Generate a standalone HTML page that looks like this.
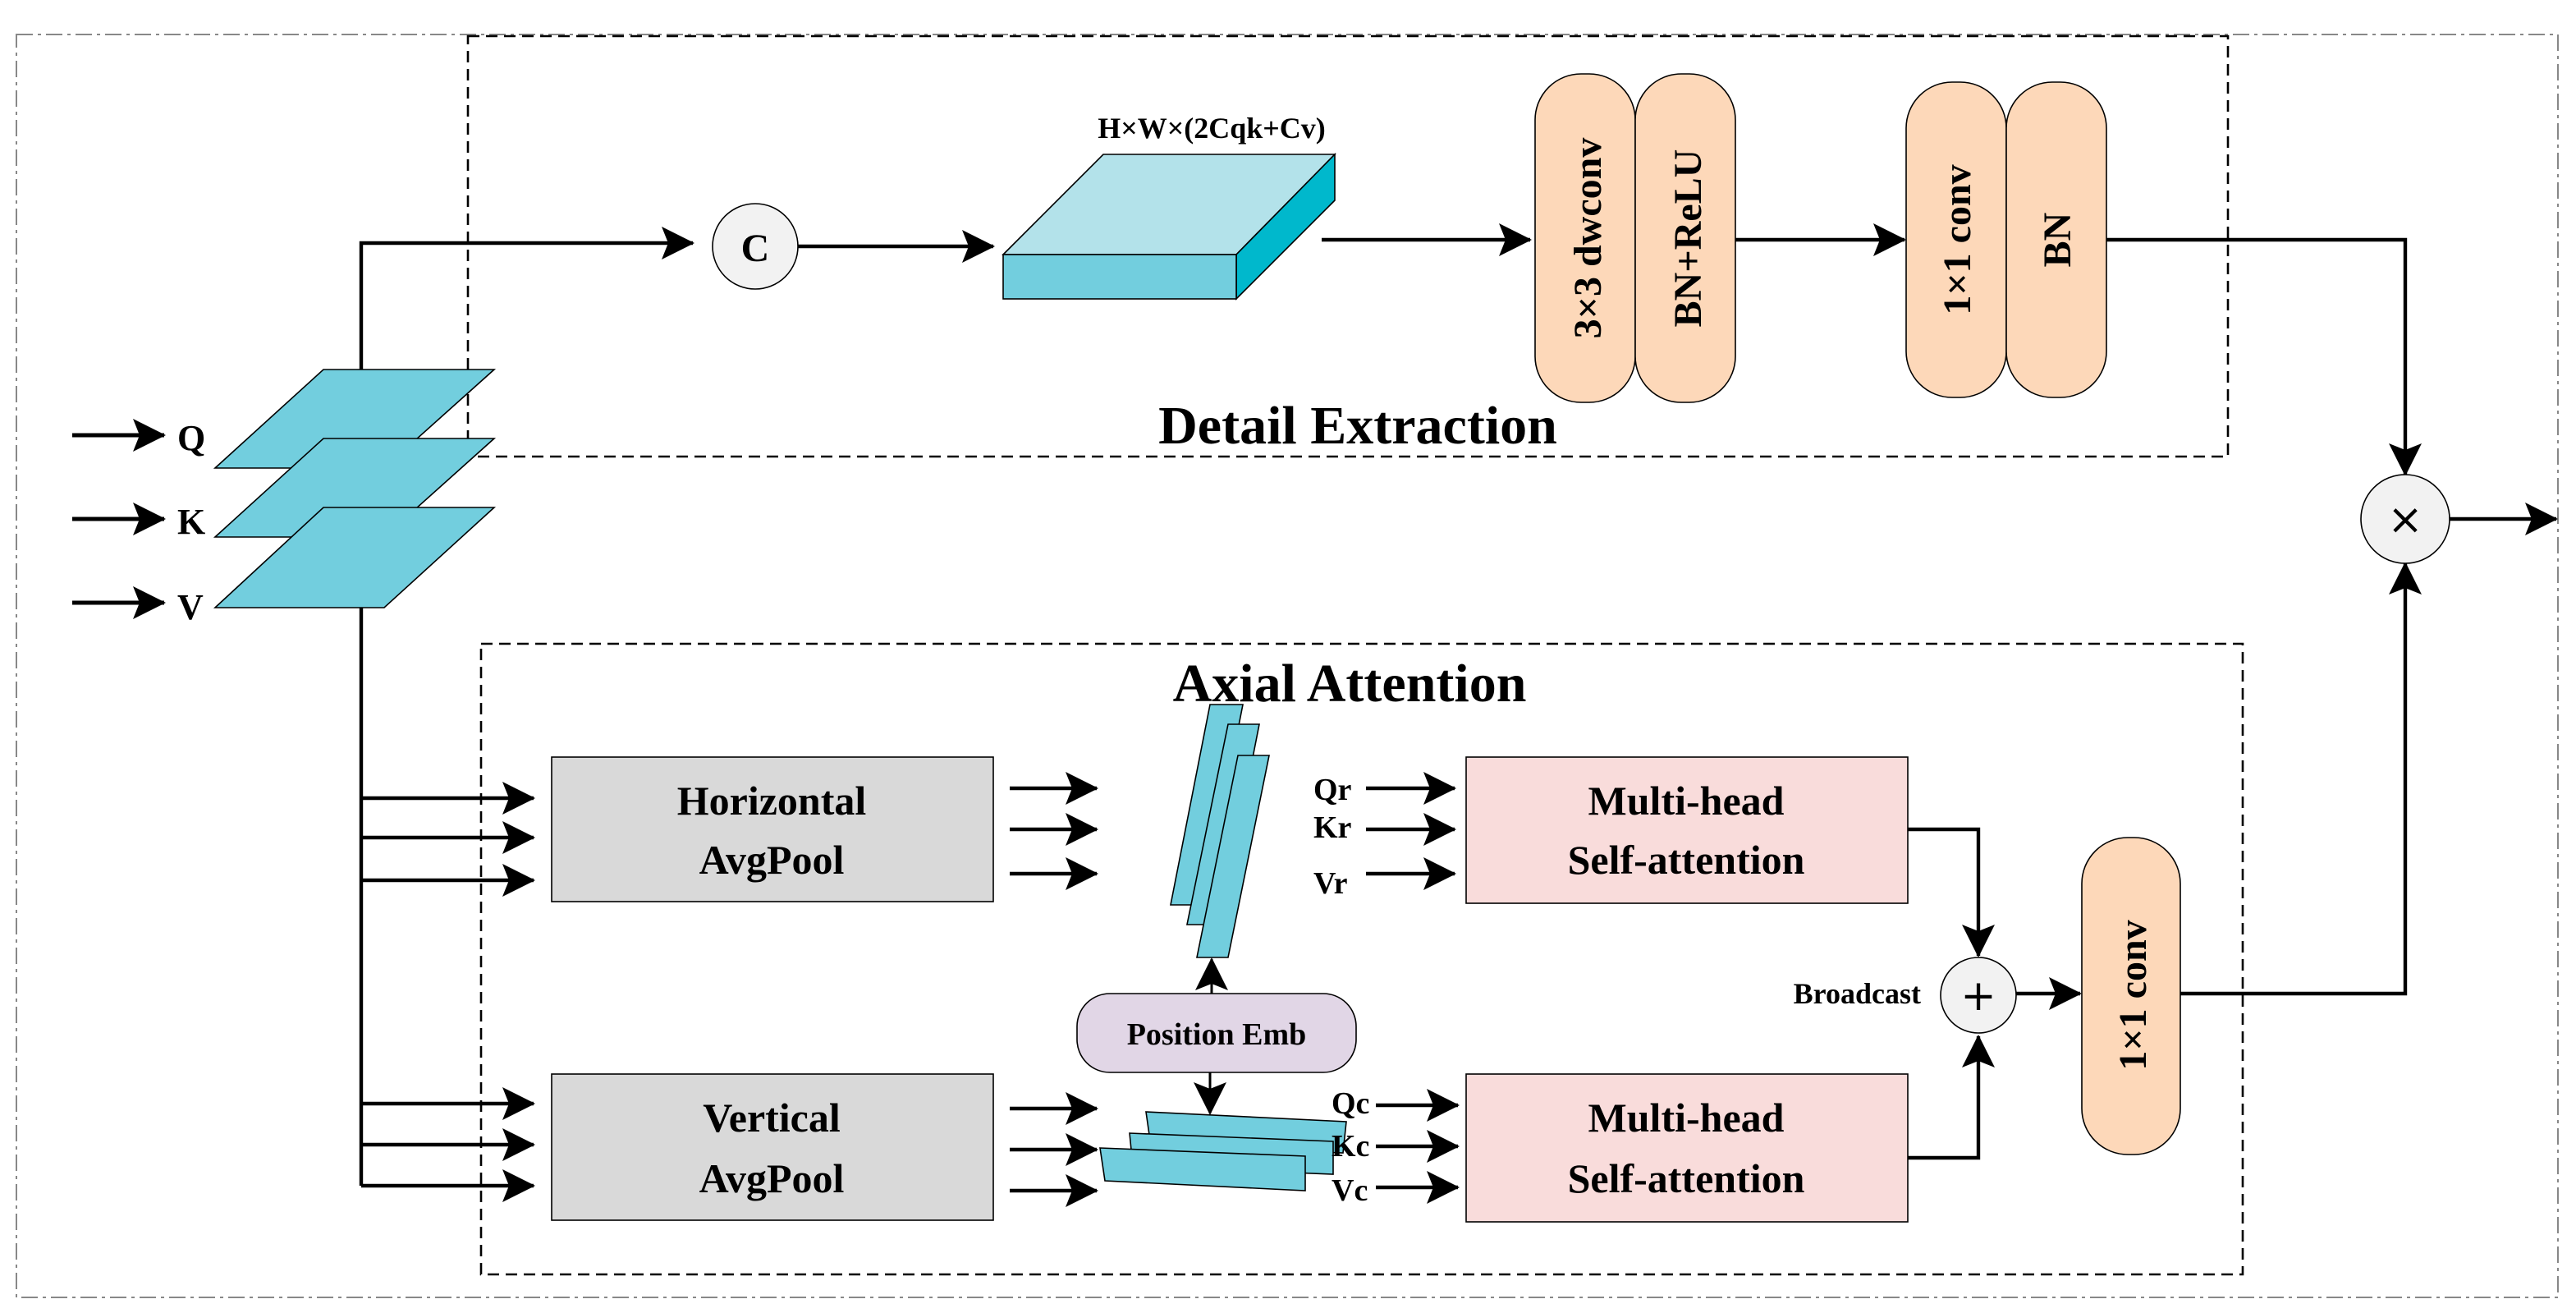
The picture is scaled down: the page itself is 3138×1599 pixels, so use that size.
<!DOCTYPE html>
<html><head><meta charset="utf-8"><style>html,body{margin:0;padding:0;background:#fff}svg{display:block}</style></head>
<body>
<svg width="3138" height="1599" viewBox="0 0 1569 799.5" xmlns="http://www.w3.org/2000/svg" font-family="Liberation Serif, serif" font-weight="bold">
<defs>
<marker id="b" viewBox="0 0 20 20" refX="19" refY="10" markerWidth="22" markerHeight="20" markerUnits="userSpaceOnUse" orient="auto">
<path d="M0,0 L20,10 L0,20 L4,10 z" fill="#000"/></marker>
</defs>
<rect x="10" y="21" width="1548" height="769" fill="none" stroke="#888" stroke-width="1" stroke-dasharray="10,3,2,3"/>
<rect x="285" y="22" width="1072" height="256" fill="none" stroke="#000" stroke-width="1.3" stroke-dasharray="7,4"/>
<rect x="293" y="392" width="1073" height="384" fill="none" stroke="#000" stroke-width="1.3" stroke-dasharray="7,4"/>

<g stroke="#000" stroke-width="2.5" fill="none">
<path d="M44,265 H100" marker-end="url(#b)"/>
<path d="M44,316 H100" marker-end="url(#b)"/>
<path d="M44,367 H100" marker-end="url(#b)"/>
</g>
<g font-size="22"><text x="108" y="274">Q</text><text x="108" y="325">K</text><text x="108" y="377">V</text></g>

<g fill="#72cede" stroke="#000" stroke-width="0.8">
<polygon points="197,225 301,225 234,285 131,285"/>
<polygon points="197,267 301,267 234,327 131,327"/>
<polygon points="197,309 301,309 234,370 131,370"/>
</g>

<g stroke="#000" stroke-width="2.2" fill="none">
<path d="M220,225 V148 H422" marker-end="url(#b)"/>
<path d="M486,150 H605" marker-end="url(#b)"/>
<path d="M805,146 H932" marker-end="url(#b)"/>
<path d="M1057,146 H1160" marker-end="url(#b)"/>
<path d="M1283,146 H1465 V289" marker-end="url(#b)"/>
<path d="M1492,316 H1557" marker-end="url(#b)"/>
<path d="M220,370 V722"/>
<path d="M220,486 H325" marker-end="url(#b)"/>
<path d="M220,510 H325" marker-end="url(#b)"/>
<path d="M220,536 H325" marker-end="url(#b)"/>
<path d="M220,672 H325" marker-end="url(#b)"/>
<path d="M220,697 H325" marker-end="url(#b)"/>
<path d="M220,722 H325" marker-end="url(#b)"/>
<path d="M615,480 H668" marker-end="url(#b)"/>
<path d="M615,505 H668" marker-end="url(#b)"/>
<path d="M615,532 H668" marker-end="url(#b)"/>
<path d="M615,675 H668" marker-end="url(#b)"/>
<path d="M615,700 H668" marker-end="url(#b)"/>
<path d="M615,725 H668" marker-end="url(#b)"/>
<path d="M832,480 H886" marker-end="url(#b)"/>
<path d="M832,505 H886" marker-end="url(#b)"/>
<path d="M832,532 H886" marker-end="url(#b)"/>
<path d="M838,673 H888" marker-end="url(#b)"/>
<path d="M838,698 H888" marker-end="url(#b)"/>
<path d="M838,723 H888" marker-end="url(#b)"/>
<path d="M1162,505 H1205 V582" marker-end="url(#b)"/>
<path d="M1162,705 H1205 V631" marker-end="url(#b)"/>
<path d="M1228,605 H1267" marker-end="url(#b)"/>
<path d="M1328,605 H1465 V343" marker-end="url(#b)"/>
</g>
<g stroke="#000" stroke-width="1.5" fill="none">
<path d="M738,630 V584" marker-end="url(#b)"/>
<path d="M737,640 V678" marker-end="url(#b)"/>
</g>

<circle cx="460" cy="150" r="26" fill="#f2f2f2" stroke="#000" stroke-width="0.8"/>
<text x="460" y="159" font-size="24" text-anchor="middle">C</text>

<g stroke="#000" stroke-width="0.8">
<polygon points="611,155 672,94 813,94 753,155" fill="#b3e2ea"/>
<polygon points="753,155 813,94 813,122 753,182" fill="#00b8cc"/>
<rect x="611" y="155" width="142" height="27" fill="#72cede"/>
</g>
<text x="738" y="84" font-size="18" text-anchor="middle">H×W×(2Cqk+Cv)</text>

<g fill="#fdd8b9" stroke="#000" stroke-width="0.8">
<rect x="935" y="45" width="61" height="200" rx="28"/>
<rect x="996" y="45" width="61" height="200" rx="28"/>
<rect x="1161" y="50" width="61" height="192" rx="28"/>
<rect x="1222" y="50" width="61" height="192" rx="28"/>
<rect x="1268" y="510" width="60" height="193" rx="28"/>
</g>
<g font-size="24" text-anchor="middle">
<text transform="translate(975,145) rotate(-90)">3×3 dwconv</text>
<text transform="translate(1036,145) rotate(-90)">BN+ReLU</text>
<text transform="translate(1200,146) rotate(-90)">1×1 conv</text>
<text transform="translate(1261,146) rotate(-90)">BN</text>
<text transform="translate(1307,606) rotate(-90)">1×1 conv</text>
</g>

<circle cx="1465" cy="316" r="27" fill="#f2f2f2" stroke="#000" stroke-width="0.8"/>
<text x="1465" y="325" font-size="26" text-anchor="middle" font-weight="normal" font-family="DejaVu Sans, sans-serif">×</text>

<text x="827" y="270" font-size="33" text-anchor="middle">Detail Extraction</text>
<text x="822" y="427" font-size="33" text-anchor="middle">Axial Attention</text>

<g stroke="#000" stroke-width="0.8">
<rect x="336" y="461" width="269" height="88" fill="#d9d9d9"/>
<rect x="336" y="654" width="269" height="89" fill="#d9d9d9"/>
<rect x="893" y="461" width="269" height="89" fill="#f9dcdb"/>
<rect x="893" y="654" width="269" height="90" fill="#f9dcdb"/>
<rect x="656" y="605" width="170" height="48" rx="20" fill="#e1d6e6"/>
</g>
<g font-size="25" text-anchor="middle">
<text x="470" y="496">Horizontal</text><text x="470" y="532">AvgPool</text>
<text x="470" y="689">Vertical</text><text x="470" y="726">AvgPool</text>
<text x="1027" y="496">Multi-head</text><text x="1027" y="532">Self-attention</text>
<text x="1027" y="689">Multi-head</text><text x="1027" y="726">Self-attention</text>
</g>
<text x="741" y="636" font-size="19" text-anchor="middle">Position Emb</text>

<g fill="#72cede" stroke="#000" stroke-width="0.8">
<polygon points="737,429 757,429 733,551 713,551"/>
<polygon points="748,441 767,441 743,563 723,563"/>
<polygon points="754,460 773,460 748,583 729,583"/>
<polygon points="698,677 820,683 818,702 701,698"/>
<polygon points="688,690 812,695 812,715 690,710"/>
<polygon points="670,699 795,704 795,725 673,719"/>
</g>
<g font-size="19">
<text x="800" y="487">Qr</text><text x="800" y="510">Kr</text><text x="800" y="544">Vr</text>
<text x="811" y="678">Qc</text><text x="811" y="704">Kc</text><text x="811" y="731">Vc</text>
</g>

<circle cx="1205" cy="606" r="23" fill="#f2f2f2" stroke="#000" stroke-width="0.8"/>
<text x="1205" y="615" font-size="26" text-anchor="middle" font-weight="normal" font-family="DejaVu Sans, sans-serif">+</text>
<text x="1170" y="611" font-size="18" text-anchor="end">Broadcast</text>
</svg>
</body></html>
